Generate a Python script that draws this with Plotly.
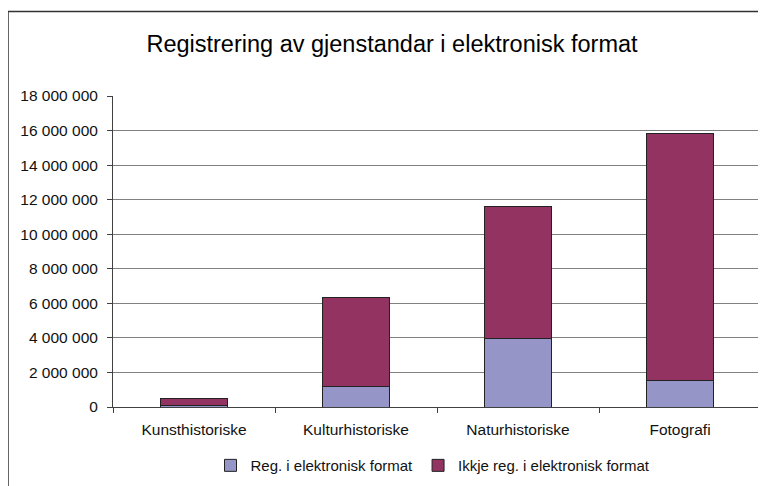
import plotly.graph_objects as go

categories = ["Kunsthistoriske", "Kulturhistoriske", "Naturhistoriske", "Fotografi"]
reg_elektronisk = [100000, 1190000, 3970000, 1530000]
ikkje_reg = [380000, 5170000, 7660000, 14310000]
series_names = ["Reg. i elektronisk format", "Ikkje reg. i elektronisk format"]
y_ticks = list(range(0, 18000001, 2000000))

font_family = "Liberation Sans, Arial, sans-serif"

# the page puts the figure 8px in from the top left corner
W, H = 766, 486
plot_left, plot_right, plot_top, plot_bottom = 105, 753, 88, 401
plot_w = plot_right - plot_left
plot_h = plot_bottom - plot_top

fig = go.Figure()
fig.add_trace(
    go.Bar(
        x=categories,
        y=reg_elektronisk,
        name=series_names[0],
        marker=dict(color="#9595C8", line=dict(color="#222222", width=1)),
    )
)
fig.add_trace(
    go.Bar(
        x=categories,
        y=ikkje_reg,
        name=series_names[1],
        marker=dict(color="#933361", line=dict(color="#222222", width=1)),
    )
)

fig.update_layout(
    width=W,
    height=H,
    barmode="stack",
    bargap=0.59,
    separators=", ",
    plot_bgcolor="white",
    paper_bgcolor="white",
    font=dict(family=font_family, size=15.5, color="#111111"),
    margin=dict(l=plot_left, r=W - plot_right, t=plot_top, b=H - plot_bottom),
    title=dict(
        text="Registrering av gjenstandar i elektronisk format",
        font=dict(family=font_family, size=23.5, color="#000000"),
        x=384 / W,
        xanchor="center",
        xref="container",
        y=1 - 36 / H,
        yanchor="middle",
        yref="container",
    ),
    legend=dict(
        orientation="h",
        x=0.5 - 4 / plot_w,
        xanchor="center",
        y=-(460 - plot_bottom) / plot_h,
        yanchor="middle",
        font=dict(size=15),
        itemwidth=30,
        traceorder="normal",
    ),
    showlegend=True,
)

fig.update_yaxes(
    range=[0, 18000000],
    tickvals=y_ticks,
    tickformat=",d",
    showgrid=True,
    gridcolor="#808080",
    gridwidth=1,
    showline=True,
    linecolor="#404040",
    linewidth=1,
    ticks="outside",
    ticklen=5,
    tickcolor="#404040",
    ticklabelstandoff=6,
    zeroline=False,
)
fig.update_xaxes(
    showline=True,
    linecolor="#404040",
    linewidth=1,
    ticks="outside",
    tickson="boundaries",
    ticklen=5,
    tickcolor="#404040",
    ticklabelstandoff=8,
)

# plot area border on the right, chart frame (cut off at right and bottom)
fig.add_shape(type="line", xref="paper", yref="paper", x0=1, x1=1, y0=0, y1=1,
              line=dict(color="#909090", width=1))
fig.add_shape(type="rect", xref="paper", yref="paper",
              x0=(0 - plot_left) / plot_w, x1=(790 - plot_left) / plot_w,
              y0=(plot_bottom - 500) / plot_h, y1=(plot_bottom - 3) / plot_h,
              line=dict(color="#333333", width=1.5), layer="below")

fig.write_html("out.html")
